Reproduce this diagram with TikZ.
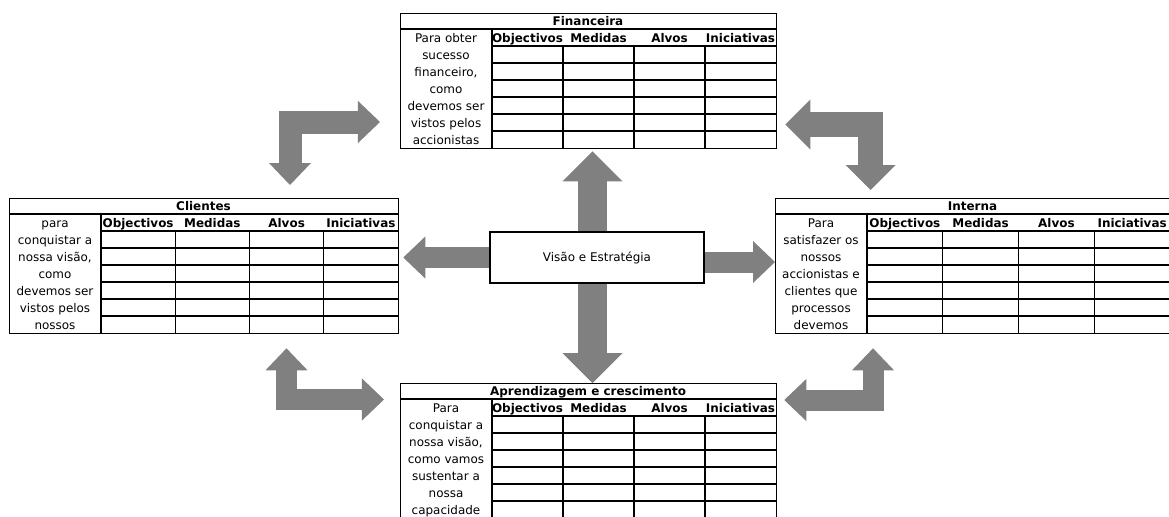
\documentclass[tikz,border=0pt]{standalone}
\usepackage{fontspec}
\setmainfont{DejaVu Sans}
\usetikzlibrary{arrows.meta,backgrounds}

\definecolor{cinza}{HTML}{808080}

\tikzset{
  quadro/.style={draw, line width=0.9pt, minimum height=3.375cm, inner sep=0pt, anchor=north west},
  grelha/.style={line width=0.8pt},
  titulo/.style={anchor=base, inner sep=0pt, font=\fontsize{8.5}{10}\selectfont\bfseries},
  cabec/.style={titulo},
  texto/.style={anchor=base, inner sep=0pt, font=\fontsize{8.5}{10}\selectfont},
  caixa/.style={draw, fill=white, line width=0.9pt, minimum width=5.35cm, minimum height=1.275cm, font=\fontsize{8.5}{10}\selectfont},
  seta/.style={draw=cinza, line width=0.525cm, line join=miter, >={Triangle[length=0.55cm,width=1.05cm,line width=0pt]}},
  setalarga/.style={seta, line width=0.725cm, >={Triangle[length=0.75cm,width=1.5cm,line width=0pt]}},
  setamedia/.style={seta, line width=0.625cm, >={Triangle[length=0.625cm,width=1.25cm,line width=0pt]}}
}

% #1 nome, #2 x, #3 y, #4 largura das colunas, #5 titulo, #6 linhas do texto
\newcommand{\tabela}[6]{
  \pgfmathsetmacro\larg{(92+4*#4)*0.025}
  \node[quadro, minimum width=\larg cm] (#1) at (#2,#3) {};
  \draw[grelha] (#2,#3+16) -- (#2+92+4*#4,#3+16);
  \draw[grelha] (#2+92,#3+16) -- (#2+92,#3+135);
  \foreach \row in {0,...,5}
    \draw[grelha] (#2+92,#3+33+17*\row) -- (#2+92+4*#4,#3+33+17*\row);
  \foreach \col in {1,2,3}
    \draw[grelha] (#2+92+\col*#4,#3+33) -- (#2+92+\col*#4,#3+135);
  \node[titulo] (#1-titulo) at (#2+46+2*#4,#3+12.5) {#5};
  \foreach \cab [count=\col] in {Objectivos,Medidas,Alvos,Iniciativas}
    \node[cabec] (#1-h\col) at (#2+92+\col*#4-0.5*#4,#3+29) {\cab};
  \foreach \lin [count=\num] in {#6}
    \node[texto] (#1-l\num) at (#2+46,#3+12+17*\num) {\lin};
}

\begin{document}
\begin{tikzpicture}[x=0.025cm, y=-0.025cm]
  \path[use as bounding box] (0,0) rectangle (1169,516);

  % as quatro perspectivas
  \tabela{fin}{400}{13}{71}{Financeira}{Para obter, sucesso, {financeiro,}, como, devemos ser, vistos pelos, accionistas}
  \tabela{cli}{9}{198}{74.25}{Clientes}{para, conquistar a, {nossa visão,}, como, devemos ser, vistos pelos, nossos}
  \tabela{int}{775}{198}{75.75}{Interna}{Para, satisfazer os, nossos, accionistas e, clientes que, processos, devemos}
  \tabela{apr}{400}{383}{71}{Aprendizagem e crescimento}{Para, conquistar a, {nossa visão,}, como vamos, sustentar a, nossa, capacidade}

  \node[caixa] (vis) at (597,257.5) {Visão e Estratégia};

  \coordinate (eixo) at (592.5,257.5);
  \coordinate (c1) at (290,122);
  \coordinate (c2) at (870.5,124.5);
  \coordinate (c3) at (286.5,399.5);
  \coordinate (c4) at (873,400);
  \coordinate (c5) at (740,262);

  \begin{scope}[on background layer]
    \draw[setalarga,->,shorten >=0.05cm] (vis.north -| eixo) -- (fin.south -| eixo);
    \draw[setalarga,->] (vis.south -| eixo) -- (apr.north -| eixo);
    \draw[seta,->,shorten >=0.1cm] (vis.west) -- (cli.east |- vis.west);
    \draw[seta,->] (vis.east |- c5) -- (int.west |- c5);
    % setas dobradas entre perspectivas
    \draw[seta,<->,line width=0.575cm,shorten <=0.325cm,shorten >=0.5cm] (cli.north -| c1) |- (fin.west |- c1);
    \draw[setamedia,<->,shorten <=0.2cm,shorten >=0.2cm] (fin.east |- c2) -| (int.north -| c2);
    \draw[seta,<->,shorten <=0.35cm,shorten >=0.4cm] (cli.south -| c3) |- (apr.west |- c3);
    \draw[seta,<->,shorten <=0.35cm,shorten >=0.175cm] (int.south -| c4) |- (apr.east |- c4);
  \end{scope}
\end{tikzpicture}
\end{document}
